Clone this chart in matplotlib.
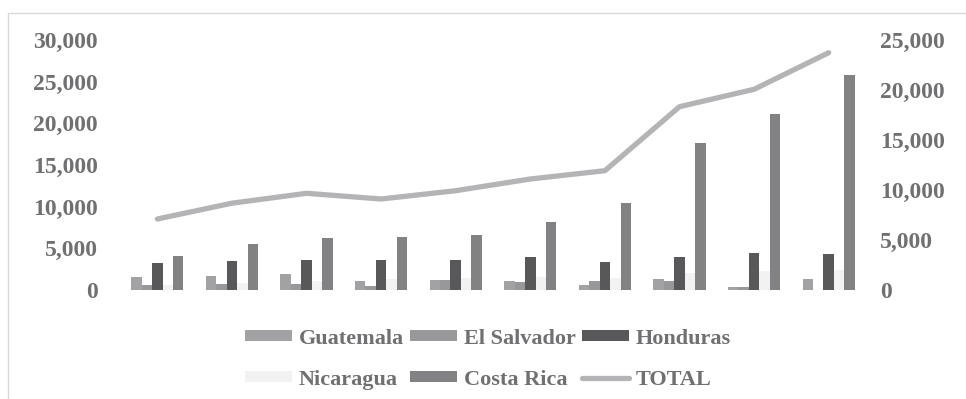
import numpy as np
import matplotlib.pyplot as plt
from matplotlib.patches import Rectangle
from matplotlib.ticker import FuncFormatter

# Datos
years = list(range(10))
guatemala = [1560, 1630, 1920, 1080, 1200, 1080, 640, 1320, 400, 1280]
el_salvador = [600, 760, 720, 430, 1200, 1000, 1080, 1080, 310, 0]
honduras = [3240, 3480, 3560, 3600, 3600, 3960, 3400, 4000, 4400, 4270]
nicaragua = [600, 800, 1120, 1320, 1400, 1520, 1440, 2080, 2300, 2440]
costa_rica = [4120, 5520, 6280, 6400, 6600, 8110, 10440, 17600, 21100, 25840]
total = [7100, 8680, 9670, 9100, 9930, 11100, 11930, 18330, 20070, 23730]

series = [
    ("Guatemala", guatemala, "#a2a2a4"),
    ("El Salvador", el_salvador, "#98989a"),
    ("Honduras", honduras, "#58585b"),
    ("Nicaragua", nicaragua, "#f2f2f2"),
    ("Costa Rica", costa_rica, "#828285"),
]

plt.rcParams['font.family'] = ['Liberation Serif', 'DejaVu Serif']
plt.rcParams['font.weight'] = 'bold'
txt_color = "#707072"

fig = plt.figure(figsize=(9.66, 3.99), dpi=100)
ax = fig.add_axes([120/966, 109/399, 746/966, 250/399])
ax2 = ax.twinx()

x = np.arange(len(years))
w = 0.14
handles = {}
for i, (name, vals, col) in enumerate(series):
    b = ax.bar(x + (i - 2) * w, vals, w, color=col, label=name, zorder=2)
    handles[name] = b

ln, = ax2.plot(x, total, color="#b4b4b7", lw=3.8, solid_capstyle='round',
               solid_joinstyle='round', label="TOTAL", zorder=3)
handles["TOTAL"] = ln

ax.set_xlim(-0.5, 9.5)
ax.set_ylim(0, 30000)
ax2.set_ylim(0, 25000)
ax.set_yticks(range(0, 30001, 5000))
ax2.set_yticks(range(0, 25001, 5000))
fmt = FuncFormatter(lambda v, p: f"{int(v):,}")
ax.yaxis.set_major_formatter(fmt)
ax2.yaxis.set_major_formatter(fmt)
ax.set_xticks([])

for a in (ax, ax2):
    for s in a.spines.values():
        s.set_visible(False)
    a.tick_params(axis='y', length=0, labelsize=17, labelcolor=txt_color)
    for lab in a.get_yticklabels():
        lab.set_fontweight('bold')
ax.tick_params(axis='y', pad=16)
ax2.tick_params(axis='y', pad=10)

# Leyenda (orden por filas)
order = ["Guatemala", "Nicaragua", "El Salvador", "Costa Rica", "Honduras", "TOTAL"]
leg = fig.legend([handles[k] for k in order], order, ncol=3, loc='center',
                 bbox_to_anchor=(0.505, 0.1), frameon=False,
                 prop={'size': 16, 'weight': 'bold'},
                 handlelength=2.1, handleheight=0.4, handletextpad=0.3,
                 columnspacing=0.3, labelspacing=0.95, borderpad=0)
for t in leg.get_texts():
    t.set_color(txt_color)

# Borde del área del gráfico
fig.patches.append(Rectangle((8/966, -0.1), 1.1, (399 - 13)/399 + 0.1,
                             transform=fig.transFigure, fill=False,
                             edgecolor="#d9d9d9", lw=1))

fig.savefig("out.png", dpi=100)
